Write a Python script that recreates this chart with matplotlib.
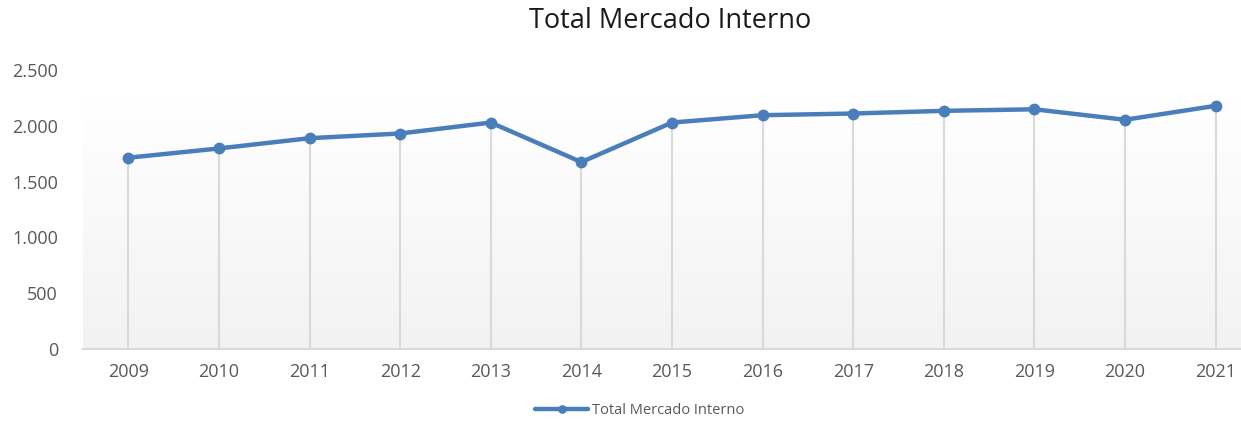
import matplotlib
matplotlib.use("Agg")
import matplotlib.pyplot as plt
import numpy as np
from matplotlib.colors import LinearSegmentedColormap

years = ["2009", "2010", "2011", "2012", "2013", "2014", "2015",
         "2016", "2017", "2018", "2019", "2020", "2021"]
values = [1714, 1797, 1889, 1931, 2029, 1675, 2029,
          2095, 2110, 2134, 2148, 2054, 2179]
yticks = [0, 500, 1000, 1500, 2000, 2500]
ytick_labels = ["0", "500", "1.000", "1.500", "2.000", "2.500"]
series_name = "Total Mercado Interno"

plt.rcParams['font.family'] = ['Open Sans', 'DejaVu Sans']
text_color = "#595959"
line_color = "#4a7ebb"

fig = plt.figure(figsize=(12.41, 4.22), dpi=100)
W, H = 1241, 422
left, right, top, bottom = 83, 1241, 70, 349
ax = fig.add_axes([left / W, 1 - bottom / H, (right - left) / W, (bottom - top) / H])

x = np.arange(len(years))

# gradient background (white at top -> light gray at bottom)
cmap = LinearSegmentedColormap.from_list("bg", ["#f2f2f2", "#ffffff"])
grad = np.linspace(0, 1, 256).reshape(-1, 1)
ax.imshow(grad, aspect="auto", cmap=cmap, origin="lower",
          extent=[-0.5, len(years), 0, 2220], zorder=0)
ax.set_ylim(0, 2500)
ax.set_xlim(-0.5, len(years) - 0.72)

# drop lines
ax.vlines(x, 0, values, colors="#d9d9d9", linewidth=1.5, zorder=1)

ax.plot(x, values, color=line_color, linewidth=3.2, marker="o",
        markersize=7.5, label=series_name, zorder=3, solid_capstyle="round")

for s in ["top", "right", "left"]:
    ax.spines[s].set_visible(False)
ax.spines["bottom"].set_color("#d9d9d9")
ax.spines["bottom"].set_linewidth(1.5)

ax.set_xticks(x)
ax.set_xticklabels(years)
ax.set_yticks(yticks)
ax.set_yticklabels(ytick_labels)
ax.tick_params(axis="both", length=0, colors=text_color, labelsize=13)
ax.tick_params(axis="x", pad=10)
ax.tick_params(axis="y", pad=18)

fig.text(670 / W, 1 - 21 / H, "Total Mercado Interno", ha="center", va="center",
         fontsize=19.5, color="#1a1a1a")

leg = fig.legend(loc="center", bbox_to_anchor=(640 / W, 1 - 411 / H), frameon=False,
                 fontsize=10.5, handlelength=3.6, handletextpad=0.3, markerscale=0.7)
for t in leg.get_texts():
    t.set_color(text_color)

fig.savefig("out.png", dpi=100)
